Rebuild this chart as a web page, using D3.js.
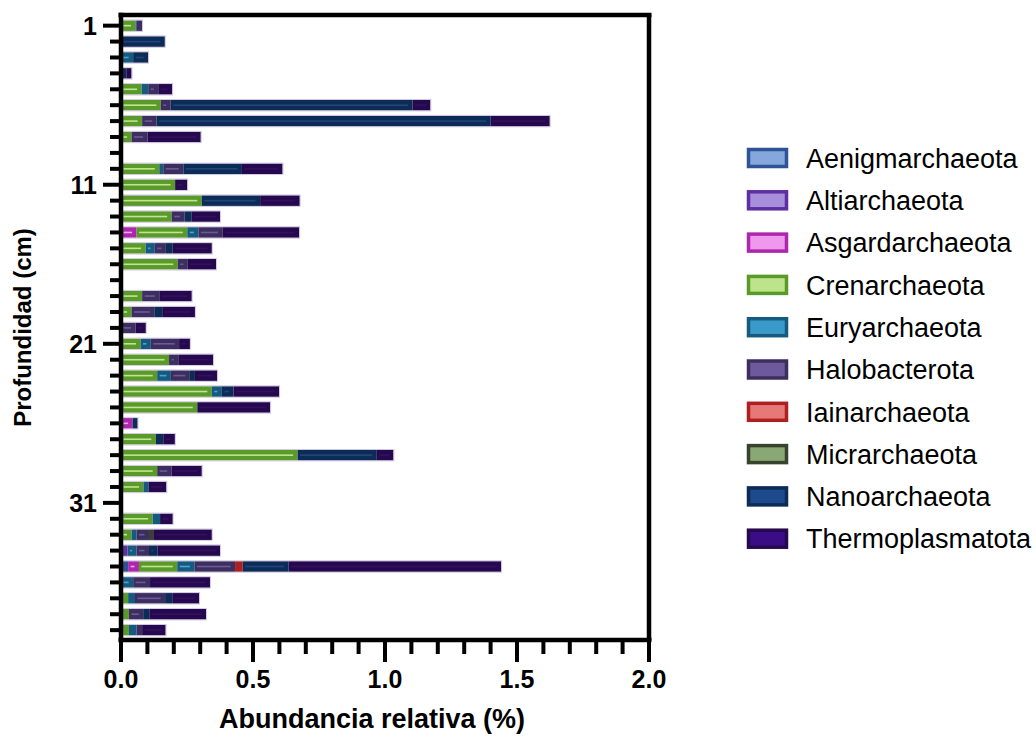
<!DOCTYPE html>
<html>
<head>
<meta charset="utf-8">
<script src="https://cdn.jsdelivr.net/npm/d3@7"></script>
<style>
  html, body { margin: 0; padding: 0; background: #fff; }
  svg { display: block; font-family: "Liberation Sans", Arial, sans-serif; }
</style>
</head>
<body>
<svg id="chart" width="1036" height="738"></svg>
<script>
// Sediment depth (cm), one row per centimetre
const depths = d3.range(1, 40);

// Relative abundance (%) of each archaeal phylum at each depth (rows 1..39)
const aenigmarchaeota = [0,0,0,0,0,0,0,0,0, 0,0,0,0,0,0,0,0, 0,0,0,0,0,0,0,0,0,0,0,0,0,0, 0,0,0,0.027,0,0,0,0];
const altiarchaeota   = [0,0,0,0,0,0,0,0,0, 0,0,0,0,0,0,0,0, 0,0,0,0,0,0,0,0,0,0,0,0,0,0, 0,0,0.025,0,0,0,0,0];
const asgardarchaeota = [0,0,0,0,0,0,0,0,0, 0,0,0,0,0.059,0,0,0, 0,0,0,0,0,0,0,0,0.044,0,0,0,0,0, 0,0,0,0.041,0,0,0,0];
const crenarchaeota   = [0.055,0,0,0,0.078,0.151,0.080,0.040,0, 0.145,0.205,0.306,0.192,0.192,0.093,0.215,0, 0.080,0.040,0,0.074,0.182,0.137,0.344,0.289,0,0.132,0.669,0.137,0.085,0, 0.120,0.040,0,0.145,0,0.027,0.030,0.030];
const euryarchaeota   = [0.005,0,0.046,0,0.025,0,0,0,0, 0.015,0,0,0,0.042,0.035,0,0, 0,0,0,0.039,0,0.052,0.038,0,0,0,0,0,0.019,0, 0.028,0.019,0.034,0.065,0.046,0.026,0,0.029];
const halobacterota   = [0.020,0,0,0,0.038,0.037,0.055,0.061,0, 0.076,0,0,0.048,0.091,0.042,0.038,0, 0.065,0.086,0.055,0.107,0.035,0.072,0,0,0,0,0,0.055,0,0, 0,0.047,0.047,0.154,0.064,0.114,0.054,0.021];
const iainarchaeota   = [0,0,0,0,0,0,0,0,0, 0,0,0,0,0,0,0,0, 0,0,0,0,0,0,0,0,0,0,0,0,0,0, 0,0,0,0.029,0,0,0,0];
const micrarchaeota   = [0,0,0,0,0,0,0,0,0, 0,0,0,0,0,0,0,0, 0,0,0,0,0,0,0,0,0,0,0,0,0,0, 0,0.016,0,0,0,0,0,0];
const nanoarchaeota   = [0,0.166,0.057,0.020,0,0.916,1.265,0,0, 0.222,0,0.221,0.028,0,0.026,0,0, 0,0.030,0,0,0,0.019,0.044,0,0.019,0.028,0.300,0,0,0, 0,0,0.033,0.174,0,0.027,0.023,0];
const thermoplasmatota= [0,0,0,0.020,0.053,0.068,0.224,0.201,0, 0.154,0.046,0.150,0.107,0.291,0.148,0.107,0, 0.123,0.124,0.039,0.041,0.132,0.084,0.173,0.276,0,0.044,0.063,0.114,0.068,0, 0.048,0.222,0.236,0.805,0.227,0.102,0.215,0.089];

const phyla = ["Aenigmarchaeota","Altiarchaeota","Asgardarchaeota","Crenarchaeota","Euryarchaeota",
               "Halobacterota","Iainarchaeota","Micrarchaeota","Nanoarchaeota","Thermoplasmatota"];
const seriesValues = [aenigmarchaeota, altiarchaeota, asgardarchaeota, crenarchaeota, euryarchaeota,
                      halobacterota, iainarchaeota, micrarchaeota, nanoarchaeota, thermoplasmatota];

const xTicks = [0, 0.5, 1.0, 1.5, 2.0];
const yTickLabels = ["1", "11", "21", "31"];

// Dark outline tone and light fill tone for each phylum
const darkColors  = ["#2f5496","#5e2ea2","#ad27ad","#5a9a2b","#165a80","#3c2f5f","#b01f1f","#37432f","#0c2b56","#25094e"];
const lightColors = ["#86a6de","#a88fdc","#ee98ee","#bde48b","#3a9bc8","#6c5a9c","#e67878","#8aa874","#1c4a8a","#3a0c86"];
const innerLine   = ["#86a6de","#a88fdc","#f2a6f2","#bfe58e","#4aa4cf","#6a5a98","#f08a8a","#8aa874","#21477a","#36105f"];

// Rows keyed by depth for stacking
const rows = depths.map((d, i) => {
  const r = { depth: d };
  phyla.forEach((p, j) => { r[p] = seriesValues[j][i]; });
  return r;
});
const stacked = d3.stack().keys(phyla)(rows);

const svg = d3.select("#chart");
const plotL = 121, plotR = 649, plotT = 15, plotB = 640;

const x = d3.scaleLinear().domain([0, 2]).range([plotL, plotR]);
const y = d3.scaleLinear().domain([0.33, 39.62]).range([plotT, plotB]);
const barH = 10.5;

// Stacked segments
const layer = svg.append("g").attr("class", "bars");
stacked.forEach((s, j) => {
  const g = layer.append("g");
  s.forEach((seg, i) => {
    const w = x(seg[1]) - x(seg[0]);
    if (w <= 0) return;
    const yc = y(depths[i]);
    g.append("rect")
      .attr("x", x(seg[0])).attr("y", yc - barH / 2)
      .attr("width", w).attr("height", barH)
      .attr("fill", darkColors[j]);
    if (w > 8) {
      g.append("rect")
        .attr("x", x(seg[0]) + 2.5).attr("y", yc - 0.8)
        .attr("width", w - 7).attr("height", 1.6)
        .attr("fill", innerLine[j]);
    }
  });
});

// Thin pale outline around each whole bar
const totals = depths.map((d, i) => d3.sum(seriesValues, s => s[i]));
layer.append("g").selectAll("rect")
  .data(depths.filter((d, i) => totals[i] > 0))
  .join("rect")
  .attr("x", x(0))
  .attr("y", d => y(d) - barH / 2 - 0.5)
  .attr("width", d => x(totals[d - 1]) - x(0) + 0.5)
  .attr("height", barH + 1)
  .attr("fill", "none")
  .attr("stroke", "#cdbfdf")
  .attr("stroke-width", 0.8);

// Frame: top and right borders
svg.append("line").attr("x1", plotL - 2.5).attr("x2", plotR + 2.5).attr("y1", plotT).attr("y2", plotT)
  .attr("stroke", "#000").attr("stroke-width", 4.5);
svg.append("line").attr("x1", plotR).attr("x2", plotR).attr("y1", plotT).attr("y2", plotB)
  .attr("stroke", "#000").attr("stroke-width", 4.5);

// X axis with minor ticks every 0.1
const xAxisG = svg.append("g").attr("transform", `translate(0,${plotB})`);
xAxisG.append("line").attr("x1", plotL - 2.5).attr("x2", plotR + 2.5)
  .attr("stroke", "#000").attr("stroke-width", 4.5);
const xMinor = d3.range(0, 21).map(k => k / 10);
xAxisG.selectAll("line.tick").data(xMinor).join("line")
  .attr("class", "tick")
  .attr("x1", d => x(d)).attr("x2", d => x(d))
  .attr("y1", 0)
  .attr("y2", (d, k) => (k % 5 === 0 ? 22 : 14))
  .attr("stroke", "#000").attr("stroke-width", 4);
xAxisG.selectAll("text").data(xTicks).join("text")
  .attr("x", d => x(d)).attr("y", 48)
  .attr("text-anchor", "middle")
  .attr("font-size", 25).attr("font-weight", "bold")
  .text(d => d3.format(".1f")(d));

// Y axis with a tick at every centimetre
const yAxisG = svg.append("g").attr("transform", `translate(${plotL},0)`);
yAxisG.append("line").attr("y1", plotT - 2.2).attr("y2", plotB + 2.2)
  .attr("stroke", "#000").attr("stroke-width", 4.5);
yAxisG.selectAll("line.tick").data(depths).join("line")
  .attr("class", "tick")
  .attr("y1", d => y(d)).attr("y2", d => y(d))
  .attr("x1", d => ((d - 1) % 10 === 0 ? -18 : -11)).attr("x2", 0)
  .attr("stroke", "#000").attr("stroke-width", 4);
yAxisG.selectAll("text").data(yTickLabels).join("text")
  .attr("x", -24).attr("y", d => y(+d))
  .attr("dy", "0.36em")
  .attr("text-anchor", "end")
  .attr("font-size", 25).attr("font-weight", "bold")
  .text(d => d);

// Axis titles
svg.append("text")
  .attr("x", 372).attr("y", 728)
  .attr("text-anchor", "middle")
  .attr("font-size", 27).attr("font-weight", "bold")
  .text("Abundancia relativa (%)");
svg.append("text")
  .attr("transform", `translate(31,${(plotT + plotB) / 2}) rotate(-90)`)
  .attr("text-anchor", "middle")
  .attr("font-size", 24).attr("font-weight", "bold")
  .text("Profundidad (cm)");

// Legend
const legend = svg.append("g").attr("transform", "translate(747,158)");
const item = legend.selectAll("g").data(phyla).join("g")
  .attr("transform", (d, i) => `translate(0,${i * 42.3})`);
item.append("rect")
  .attr("x", 1.5).attr("y", -8.5)
  .attr("width", 38).attr("height", 17)
  .attr("fill", (d, i) => lightColors[i])
  .attr("stroke", (d, i) => darkColors[i])
  .attr("stroke-width", 3.5);
item.append("text")
  .attr("x", 59).attr("y", 0).attr("dy", "0.36em")
  .attr("font-size", 27)
  .text(d => d);
</script>
</body>
</html>
